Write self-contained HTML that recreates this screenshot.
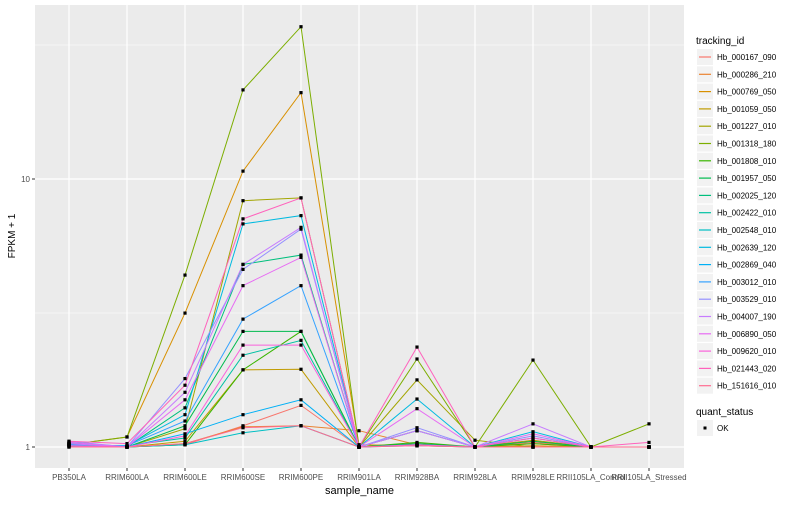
<!DOCTYPE html>
<html><head><meta charset="utf-8"><style>
body{margin:0;background:#fff;font-family:"Liberation Sans",sans-serif}
svg text{font-family:"Liberation Sans",sans-serif}
</style></head><body>
<svg id="chart" width="800" height="500" xmlns="http://www.w3.org/2000/svg"></svg>
<script>
const categories=["PB350LA","RRIM600LA","RRIM600LE","RRIM600SE","RRIM600PE","RRIM901LA","RRIM928BA","RRIM928LA","RRIM928LE","RRII105LA_Control","RRII105LA_Stressed"];
const seriesNames=["Hb_000167_090","Hb_000286_210","Hb_000769_050","Hb_001059_050","Hb_001227_010","Hb_001318_180","Hb_001808_010","Hb_001957_050","Hb_002025_120","Hb_002422_010","Hb_002548_010","Hb_002639_120","Hb_002869_040","Hb_003012_010","Hb_003529_010","Hb_004007_190","Hb_006890_050","Hb_009620_010","Hb_021443_020","Hb_151616_010"];
const seriesColors=["#F8766D","#EA8331","#D89000","#C09B00","#A3A500","#7CAE00","#39B600","#00BB4E","#00BF7D","#00C1A3","#00BFC4","#00BAE0","#00B0F6","#35A2FF","#9590FF","#C77CFF","#E76BF3","#FA62DB","#FF62BC","#FF6C91"];
const s01=[1.03,1.0,1.02,1.2,1.43,1.0,1.03,1.0,1.04,1.0,1.0];
const s02=[1.02,1.0,1.03,1.19,1.2,1.15,1.02,1.0,1.03,1.0,1.0];
const s03=[1.02,1.09,3.16,10.7,21.0,1.02,1.01,1.0,1.01,1.0,1.0];
const s04=[1.0,1.0,1.05,1.94,1.95,1.0,1.15,1.0,1.06,1.0,1.0];
const s05=[1.01,1.0,1.17,8.3,8.5,1.0,1.78,1.06,1.0,1.0,1.0];
const s06=[1.02,1.09,4.38,21.5,37.0,1.0,2.13,1.0,2.11,1.0,1.22];
const s07=[1.01,1.0,1.02,1.94,2.7,1.0,1.04,1.0,1.03,1.0,1.0];
const s08=[1.04,1.0,1.2,2.7,2.7,1.0,1.03,1.0,1.05,1.0,1.0];
const s09=[1.03,1.0,1.4,4.8,5.2,1.0,1.02,1.0,1.0,1.0,1.0];
const s10=[1.0,1.01,1.08,2.2,2.5,1.0,1.02,1.0,1.0,1.0,1.0];
const s11=[1.01,1.0,1.02,1.13,1.2,1.0,1.01,1.0,1.0,1.0,1.0];
const s12=[1.02,1.01,1.32,6.8,7.3,1.0,1.51,1.0,1.14,1.0,1.0];
const s13=[1.03,1.0,1.12,1.32,1.5,1.0,1.02,1.0,1.0,1.0,1.0];
const s14=[1.02,1.01,1.25,3.0,4.0,1.0,1.15,1.0,1.08,1.0,1.0];
const s15=[1.05,1.0,1.8,4.6,6.5,1.0,1.18,1.0,1.1,1.0,1.0];
const s16=[1.03,1.0,1.6,4.8,6.6,1.0,1.15,1.0,1.22,1.0,1.0];
const s17=[1.04,1.0,1.5,4.0,5.1,1.0,1.39,1.0,1.12,1.0,1.0];
const s18=[1.01,1.0,1.1,2.4,2.4,1.0,1.02,1.0,1.0,1.0,1.0];
const s19=[1.05,1.03,1.7,7.1,8.5,1.0,2.36,1.0,1.08,1.0,1.04];
const s20=[1.0,1.0,1.03,1.18,1.2,1.0,1.01,1.0,1.0,1.0,1.0];
const seriesValues=[s01,s02,s03,s04,s05,s06,s07,s08,s09,s10,s11,s12,s13,s14,s15,s16,s17,s18,s19,s20];
const yTicks=[1,10];
const yTickLabels=["1","10"];
const yMinor=[Math.sqrt(10),Math.sqrt(1000)];

const NS="http://www.w3.org/2000/svg";
const svg=document.getElementById('chart');
const P={l:35,r:684,t:5,b:468};
function xPos(i){return 69+i*58;}
function yPos(v){return 447-268*Math.log10(v);}
function mk(tag,attrs,parent){const e=document.createElementNS(NS,tag);for(const k in attrs)e.setAttribute(k,attrs[k]);(parent||svg).appendChild(e);return e;}

const panel=mk('rect',{x:P.l,y:P.t,width:P.r-P.l,height:P.b-P.t,fill:'#EBEBEB'});


yMinor.forEach(v=>{const l=mk('line',{x1:P.l,x2:P.r,y1:yPos(v),y2:yPos(v),stroke:'#fff','stroke-width':0.6});

});
yTicks.forEach((v,i)=>{const l=mk('line',{x1:P.l,x2:P.r,y1:yPos(v),y2:yPos(v),stroke:'#fff','stroke-width':1.2});


const t=mk('line',{x1:P.l-3,x2:P.l,y1:yPos(v),y2:yPos(v),stroke:'#333','stroke-width':1});


const tx=mk('text',{x:P.l-5,y:yPos(v)+3,'text-anchor':'end','font-size':8,fill:'#4D4D4D'});tx.textContent=yTickLabels[i];

});
categories.forEach((c,i)=>{const l=mk('line',{x1:xPos(i),x2:xPos(i),y1:P.t,y2:P.b,stroke:'#fff','stroke-width':1.2});


const t=mk('line',{x1:xPos(i),x2:xPos(i),y1:P.b,y2:P.b+3,stroke:'#333','stroke-width':1});


const tx=mk('text',{x:xPos(i),y:P.b+12,'text-anchor':'middle','font-size':8,fill:'#4D4D4D'});tx.textContent=c;

});
seriesValues.forEach((vals,si)=>{
 const pts=vals.map((v,i)=>xPos(i)+','+yPos(v).toFixed(1)).join(' ');
 const pl=mk('polyline',{points:pts,fill:'none',stroke:seriesColors[si],'stroke-width':1});
 
 
});
seriesValues.forEach((vals,si)=>{vals.forEach((v,i)=>{
 const r=mk('rect',{x:xPos(i)-1.6,y:yPos(v)-1.6,width:3.2,height:3.2,fill:'#000'});
 
 
});});
const xt=mk('text',{x:(P.l+P.r)/2,y:494,'text-anchor':'middle','font-size':11,fill:'#000'});xt.textContent='sample_name';


const yt=mk('text',{x:0,y:0,'text-anchor':'middle','font-size':10,fill:'#000',transform:'translate(15,236) rotate(-90)'});yt.textContent='FPKM + 1';


const lt=mk('text',{x:696,y:44,'font-size':10,fill:'#000'});lt.textContent='tracking_id';


seriesNames.forEach((n,i)=>{const y=49+i*17.3;
 const g=mk('g',{});
 
 
 mk('rect',{x:697,y:y,width:16,height:16,fill:'#F2F2F2'},g);
 mk('line',{x1:699,x2:711,y1:y+8,y2:y+8,stroke:seriesColors[i],'stroke-width':1.2},g);
 const t=mk('text',{x:717,y:y+11,'font-size':8,fill:'#000'},g);t.textContent=n;});
const qt=mk('text',{x:696,y:415,'font-size':10,fill:'#000'});qt.textContent='quant_status';


const qg=mk('g',{});


mk('rect',{x:697,y:420,width:16,height:16,fill:'#F2F2F2'},qg);
mk('rect',{x:703.5,y:426.5,width:3,height:3,fill:'#000'},qg);
const ok=mk('text',{x:717,y:431,'font-size':8,fill:'#000'},qg);ok.textContent='OK';
</script>
</body></html>
